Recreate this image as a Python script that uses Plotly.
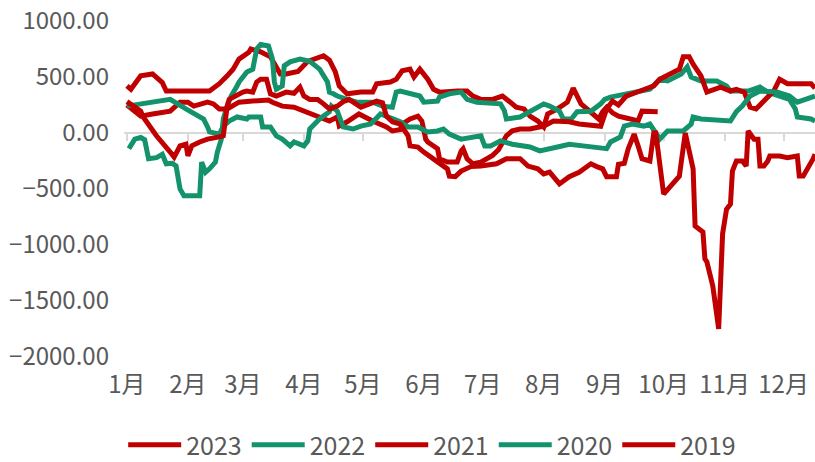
import plotly.graph_objects as go

# ---------------- data (day of year, value) ----------------
month_labels = ["1月", "2月", "3月", "4月", "5月", "6月", "7月", "8月", "9月", "10月", "11月", "12月"]
month_days = [0, 31, 59, 90, 120, 151, 181, 212, 243, 273, 304, 334]
y_ticks = [-2000, -1500, -1000, -500, 0, 500, 1000]

days_2023 = [0, 2, 7, 13, 18, 20, 42, 47, 51, 54, 57, 62, 63, 68, 73, 76, 78, 81, 87, 92, 100, 103,
             106, 108, 110, 112, 119, 125, 127, 134, 137, 140, 144, 146, 149, 153, 156, 159, 168,
             173, 176, 180, 186, 191, 195, 198, 202, 205, 209, 212, 214, 219, 224, 227, 231, 236,
             240, 242, 244, 247, 250, 255, 260, 262, 270]
vals_2023 = [420, 390, 510, 527, 450, 375, 375, 440, 510, 570, 660, 720, 750, 725, 680, 600, 527,
             527, 550, 640, 690, 650, 545, 420, 390, 350, 365, 365, 440, 455, 480, 555, 570, 500,
             570, 480, 390, 365, 375, 375, 330, 300, 300, 330, 275, 230, 215, 150, 107, 54, 170,
             215, 275, 400, 260, 190, 125, 190, 230, 180, 150, 130, 107, 195, 190]

days_2022 = [1, 4, 7, 9, 11, 15, 18, 20, 23, 25, 27, 29, 37, 38, 40, 42, 45, 46, 48, 49, 51, 53,
             56, 57, 61, 64, 66, 68, 72, 74, 75, 76, 79, 80, 83, 88, 93, 98, 102, 103, 105, 107,
             112, 117, 125, 130, 135, 137, 139, 144, 149, 151, 158, 159, 164, 170, 173, 178, 185,
             190, 192, 193, 200, 207, 212, 215, 220, 222, 226, 229, 236, 241, 243, 246, 254, 261,
             266, 271, 275, 282, 285, 287, 292, 300, 305, 307, 316, 322, 326, 332, 337, 340, 341,
             348, 350]
vals_2022 = [-140, -55, -40, -60, -230, -220, -190, -275, -270, -295, -500, -560, -560, -260, -350,
             -320, -260, -170, -55, 125, 240, 330, 420, 455, 545, 570, 750, 790, 777, 660, 455, 390,
             420, 600, 635, 660, 640, 570, 455, 365, 350, 330, 300, 275, 275, 240, 230, 365, 375,
             350, 330, 275, 285, 320, 350, 365, 300, 275, 260, 260, 200, 125, 143, 215, 260, 240,
             195, 125, 125, 190, 195, 260, 300, 320, 350, 365, 390, 480, 465, 527, 590, 500, 465,
             465, 420, 375, 375, 410, 365, 330, 300, 215, 143, 125, 107]

days_2021 = [0, 4, 7, 13, 22, 27, 31, 34, 41, 44, 47, 51, 55, 57, 64, 72, 74, 79, 85, 90, 95, 100,
             103, 107, 108, 112, 118, 125, 132, 135, 139, 140, 144, 148, 150, 152, 153, 158, 159,
             163, 168, 170, 171, 173, 176, 180, 183, 186, 189, 191, 193, 196, 200, 205, 208, 212,
             217, 225, 230, 237, 241, 244, 247, 250, 254, 261, 268, 271, 281, 283, 286, 288, 292,
             295, 298, 302, 307, 310, 314, 317, 320, 324, 329, 332, 336, 348, 350]
vals_2021 = [250, 200, 150, 170, 195, 275, 275, 240, 275, 260, 215, 215, 250, 275, 285, 295, 275,
             240, 230, 195, 170, 125, 107, 143, 62, 100, 170, 107, 54, 18, 30, 80, 125, 150, 107,
             -55, -80, -140, -230, -260, -260, -160, -140, -230, -275, -260, -230, -200, -150, -80,
             -25, 20, 36, 36, 50, 62, 107, 100, 80, 62, 60, 215, 285, 250, 330, 375, 420, 480, 570,
             680, 680, 615, 510, 365, 380, 410, 375, 390, 365, 230, 215, 285, 375, 480, 440, 440,
             400]

days_2020 = [0, 7, 13, 22, 30, 39, 41, 42, 47, 49, 52, 56, 61, 62, 68, 69, 73, 76, 79, 83, 85, 90,
             92, 93, 98, 103, 104, 107, 110, 115, 119, 124, 129, 132, 135, 139, 143, 148, 153, 158,
             161, 164, 170, 176, 180, 182, 185, 190, 196, 205, 210, 219, 225, 232, 239, 244, 246,
             249, 251, 253, 257, 263, 266, 270, 271, 275, 283, 287, 288, 292, 307, 310, 313, 317,
             322, 331, 337, 341, 346, 350]
vals_2020 = [240, 260, 285, 300, 215, 125, 54, 10, -10, 62, 107, 143, 125, 143, 143, 54, 54, -25,
             -55, -115, -80, -115, -70, 36, 125, 190, 240, 195, 54, 36, 62, 80, 170, 150, 125, 100,
             54, 54, 10, 18, 36, -10, -55, -35, -25, -115, -115, -70, -100, -125, -160, -125, -100,
             -115, -125, -140, -80, -60, -35, 62, 80, 62, 80, -25, -55, 18, 18, 80, 143, 125, 107,
             190, 240, 330, 375, 365, 330, 275, 300, 330]

days_2019 = [0, 7, 8, 15, 22, 24, 27, 30, 31, 33, 37, 41, 47, 49, 51, 52, 59, 61, 64, 66, 68, 71,
             73, 76, 81, 85, 88, 90, 93, 97, 100, 103, 107, 110, 113, 119, 127, 130, 132, 135, 139,
             141, 143, 144, 148, 151, 156, 159, 163, 164, 167, 170, 175, 180, 188, 193, 200, 204,
             209, 212, 215, 220, 225, 230, 236, 239, 242, 244, 249, 250, 253, 255, 258, 260, 262,
             266, 268, 269, 273, 281, 284, 288, 289, 293, 294, 295, 298, 301, 303, 305, 307, 308,
             310, 313, 315, 316, 319, 321, 322, 324, 326, 327, 332, 336, 341, 342, 344, 349, 350]
vals_2019 = [280, 195, 150, -25, -170, -215, -115, -100, -205, -115, -80, -55, -35, -25, 240, 300,
             365, 375, 365, 455, 480, 480, 350, 330, 365, 355, 410, 330, 300, 300, 260, 215, 240,
             280, 300, 230, 285, 270, 150, 100, 80, 36, -25, -115, -125, -170, -230, -275, -320,
             -385, -390, -340, -300, -295, -275, -230, -230, -295, -320, -365, -350, -455, -390,
             -350, -275, -300, -320, -390, -390, -280, -270, -140, -10, -115, -230, -250, 0, 0, -545,
             -385, 0, -320, -830, -885, -1125, -1150, -1365, -1750, -900, -680, -635, -340, -250,
             -250, -295, 18, -55, -55, -295, -295, -250, -205, -205, -220, -205, -385, -385, -232,
             -190]

RED = "#C00000"
GREEN = "#13926B"
FONT = "Noto Sans CJK SC, Open Sans, sans-serif"
TEXT_COLOR = "#595959"

series = [
    ("2023", days_2023, vals_2023, RED),
    ("2022", days_2022, vals_2022, GREEN),
    ("2021", days_2021, vals_2021, RED),
    ("2020", days_2020, vals_2020, GREEN),
    ("2019", days_2019, vals_2019, RED),
]

fig = go.Figure()
for name, d, v, c in series:
    fig.add_trace(go.Scatter(x=d, y=v, mode="lines", name=name,
                             line=dict(color=c, width=5),
                             hoverinfo="skip"))

# dummy trace so the zero-crossing axis (x2) is drawn
fig.add_trace(go.Scatter(x=[None], y=[None], xaxis="x2", showlegend=False, hoverinfo="skip"))

xr = [-1.5, 350]
fig.update_layout(
    width=815, height=462,
    margin=dict(l=124, r=0, t=21, b=105, autoexpand=False),
    paper_bgcolor="white", plot_bgcolor="white",
    font=dict(family=FONT, size=24, color=TEXT_COLOR),
    showlegend=True,
    legend=dict(orientation="h", x=0.446, xanchor="center", y=-0.262, yanchor="middle",
                font=dict(size=25, color=TEXT_COLOR), itemwidth=53, tracegroupgap=0,
                bgcolor="rgba(0,0,0,0)"),
    xaxis=dict(range=xr, tickmode="array", tickvals=month_days, ticktext=month_labels,
               showgrid=False, zeroline=False, showline=False, ticks="", automargin=False,
               ticklabelstandoff=11, tickfont=dict(size=24, color=TEXT_COLOR)),
    xaxis2=dict(range=xr, overlaying="x", anchor="free", position=2/3, side="bottom",
                tickmode="array", tickvals=month_days, showticklabels=False, automargin=False,
                showgrid=False, zeroline=False, showline=True, linecolor="#D9D9D9",
                linewidth=2, ticks="outside", ticklen=7, tickwidth=2, tickcolor="#D9D9D9",
                layer="below traces"),
    yaxis=dict(range=[-2000, 1000], tickmode="array", tickvals=y_ticks,
               tickformat=".2f", showgrid=False, zeroline=False, showline=False, ticks="",
               automargin=False, ticklabelstandoff=14, tickfont=dict(size=24, color=TEXT_COLOR)),
)

fig.write_html("out.html", config={"displayModeBar": False},
               post_script="document.body.style.margin='0';document.body.style.overflow='hidden';")
